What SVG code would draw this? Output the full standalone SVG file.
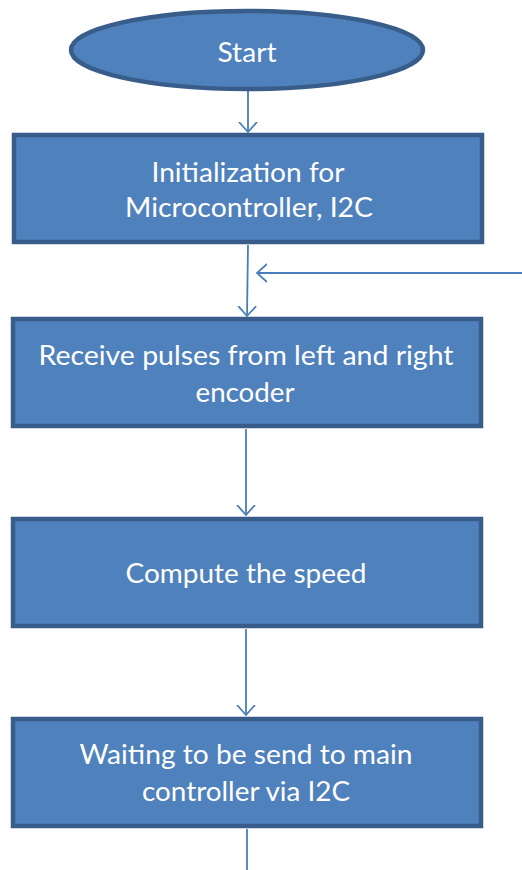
<svg xmlns="http://www.w3.org/2000/svg" width="522" height="870" viewBox="0 0 522 870">
<style>
.node{fill:#4f81bd;stroke:#385d8a;stroke-width:4.5}
.lbl{fill:#ffffff;font-family:Lato,"Open Sans","Liberation Sans",sans-serif;font-size:27px;text-anchor:middle}
.conn{stroke:#4a7ebb;stroke-width:1.8;fill:none}
</style>
<defs>
<marker id="ah" markerWidth="20" markerHeight="20" refX="10" refY="10" orient="auto" markerUnits="userSpaceOnUse">
<path d="M0,1 L10,10 L0,19" fill="none" stroke="#4a7ebb" stroke-width="1.8"/>
</marker>
</defs>
<rect width="522" height="870" fill="#ffffff"/>
<g id="connectors">
<line class="conn" x1="248" y1="90" x2="248" y2="132" marker-end="url(#ah)"/>
<line class="conn" x1="248" y1="245" x2="247" y2="316" marker-end="url(#ah)"/>
<line class="conn" x1="522" y1="273" x2="257" y2="273" marker-end="url(#ah)"/>
<line class="conn" x1="246" y1="429" x2="246" y2="515" marker-end="url(#ah)"/>
<line class="conn" x1="246" y1="629" x2="246" y2="715" marker-end="url(#ah)"/>
<line class="conn" x1="247" y1="829" x2="247" y2="870"/>
</g>
<g id="start">
<ellipse class="node" cx="247" cy="50" rx="176" ry="39"/>
<text class="lbl" x="247" y="62" textLength="59" lengthAdjust="spacingAndGlyphs">Start</text>
</g>
<g id="init">
<rect class="node" x="14" y="135" width="468" height="107"/>
<text class="lbl" x="248" y="182" textLength="193" lengthAdjust="spacingAndGlyphs">Initialization for</text>
<text class="lbl" x="249" y="217" textLength="248" lengthAdjust="spacingAndGlyphs">Microcontroller, I2C</text>
</g>
<g id="receive">
<rect class="node" x="13" y="319" width="468" height="107"/>
<text class="lbl" x="246" y="365" textLength="415" lengthAdjust="spacingAndGlyphs">Receive pulses from left and right</text>
<text class="lbl" x="245" y="402" textLength="99" lengthAdjust="spacingAndGlyphs">encoder</text>
</g>
<g id="compute">
<rect class="node" x="13" y="519" width="468" height="107"/>
<text class="lbl" x="246" y="583" textLength="241" lengthAdjust="spacingAndGlyphs">Compute the speed</text>
</g>
<g id="wait">
<rect class="node" x="13" y="719" width="468" height="107"/>
<text class="lbl" x="246" y="764" textLength="333" lengthAdjust="spacingAndGlyphs">Waiting to be send to main</text>
<text class="lbl" x="246" y="801" textLength="208" lengthAdjust="spacingAndGlyphs">controller via I2C</text>
</g>
</svg>
